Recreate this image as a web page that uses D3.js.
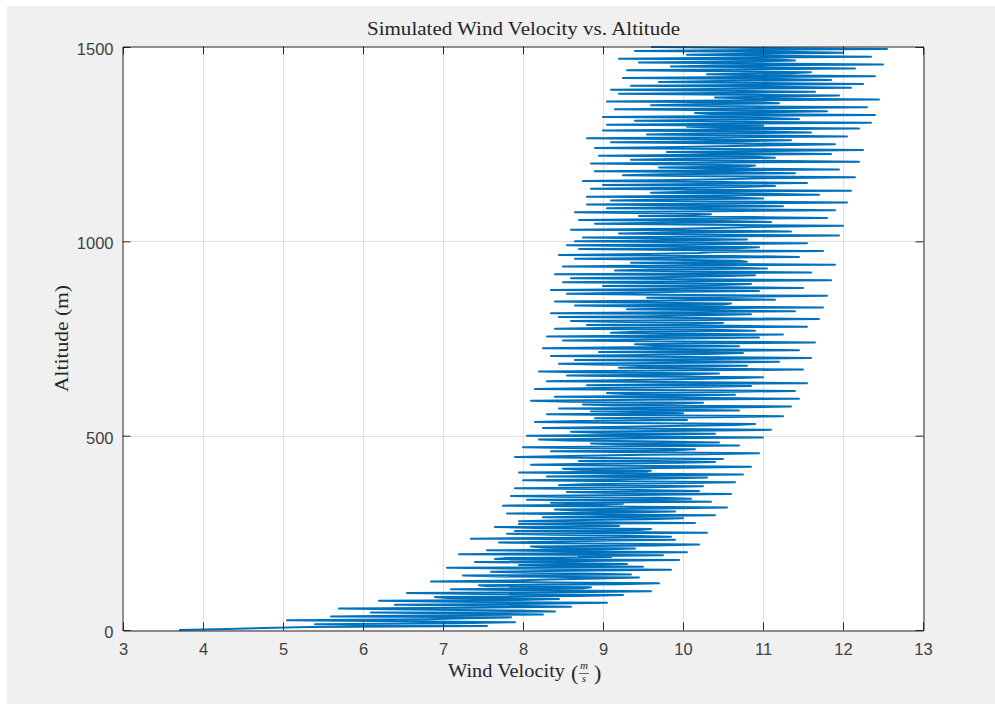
<!DOCTYPE html>
<html>
<head>
<meta charset="utf-8">
<script src="https://cdn.jsdelivr.net/npm/d3@7"></script>
<style>
  body { margin: 0; background: #ffffff; }
  svg { display: block; }
</style>
</head>
<body>
<svg width="995" height="704"></svg>
<script>
// Altitude samples (m), one reading every 2.5 m from 0 to 1500
const altStep = 2.5;

// Wind velocity (m/s), 40 readings per 100 m
const velocity = [
  3.70, 4.30, 4.75, 5.35, 7.55, 6.10, 5.40, 7.20, 7.90, 6.45, 5.05, 6.80, 7.30, 7.85, 5.60, 6.70, 8.25, 7.40, 6.10, 8.40,
  7.95, 6.60, 5.70, 7.35, 8.60, 7.70, 6.40, 8.20, 9.05, 7.15, 6.20, 7.95, 8.45, 7.05, 6.90, 8.70, 9.25, 7.50, 6.55, 8.85,
  9.60, 8.10, 7.10, 8.75, 8.85, 7.55, 7.45, 9.20, 9.70, 8.40, 6.85, 7.90, 8.30, 8.95, 9.45, 7.70, 7.25, 9.35, 8.95, 8.05,
  7.60, 8.60, 9.85, 8.25, 7.05, 9.50, 8.55, 7.95, 9.30, 8.45, 7.40, 8.80, 9.95, 7.65, 7.80, 9.10, 8.70, 9.75, 7.20, 8.50,
  10.05, 8.60, 7.55, 9.05, 9.40, 8.25, 8.10, 9.65, 10.20, 8.80, 7.70, 8.45, 9.15, 9.90, 7.35, 8.70, 9.85, 9.30, 8.35, 7.80,
  10.30, 8.95, 7.90, 9.45, 9.60, 8.15, 7.65, 9.20, 8.80, 7.95, 10.15, 9.00, 7.95, 8.50, 9.55, 10.00, 8.25, 9.35, 10.40, 8.65,
  7.80, 9.30, 9.90, 8.65, 8.40, 9.75, 10.55, 9.05, 7.75, 8.90, 9.25, 8.35, 10.35, 9.55, 8.05, 10.10, 9.70, 8.60, 7.85, 9.40,
  10.60, 9.15, 8.55, 10.20, 9.45, 8.75, 7.90, 9.60, 10.25, 8.45, 8.75, 9.85, 10.65, 9.20, 8.00, 8.95, 9.80, 10.30, 8.30, 9.50,
  10.75, 9.10, 7.95, 9.55, 9.60, 8.70, 8.50, 10.05, 10.85, 9.30, 8.10, 8.85, 9.95, 10.40, 8.70, 9.65, 10.50, 9.00, 7.90, 8.60,
  9.30, 10.25, 10.95, 9.45, 8.35, 9.90, 10.15, 8.80, 8.00, 9.75, 10.70, 9.20, 8.85, 10.45, 9.75, 8.55, 8.20, 9.35, 11.00, 9.80,
  8.05, 9.45, 10.40, 8.95, 8.60, 10.15, 11.10, 9.60, 8.25, 9.05, 9.85, 10.65, 10.90, 9.25, 8.15, 8.70, 10.05, 9.80, 8.90, 10.35,
  11.25, 9.40, 8.30, 10.00, 9.55, 8.85, 10.70, 9.70, 8.45, 10.50, 11.35, 9.15, 8.75, 9.90, 10.25, 8.60, 8.10, 9.55, 11.45, 10.10,
  8.40, 9.85, 10.65, 9.30, 9.05, 10.45, 11.40, 9.60, 8.15, 9.00, 10.20, 10.85, 8.80, 9.75, 11.55, 10.25, 8.30, 9.15, 9.95, 10.60,
  11.00, 9.45, 8.55, 10.05, 10.45, 8.90, 8.20, 9.80, 11.50, 10.30, 9.20, 9.55, 10.80, 9.05, 8.45, 10.15, 11.20, 9.70, 8.65, 10.40,
  11.60, 10.00, 8.35, 9.50, 10.30, 10.75, 8.95, 9.85, 11.45, 10.20, 8.25, 9.25, 10.70, 9.65, 9.40, 10.55, 11.65, 9.90, 8.50, 9.35,
  10.05, 10.95, 8.30, 9.70, 11.25, 10.10, 9.10, 9.45, 10.90, 10.35, 8.40, 9.15, 11.55, 10.60, 8.80, 9.95, 10.50, 9.30, 8.60, 10.25,
  11.70, 10.15, 8.45, 9.60, 10.25, 10.85, 8.35, 9.80, 11.40, 10.40, 9.30, 10.05, 11.75, 9.45, 8.65, 10.50, 10.60, 9.25, 8.40, 9.90,
  11.15, 10.30, 9.55, 10.70, 11.80, 9.65, 8.55, 9.35, 10.00, 10.95, 8.35, 9.75, 11.50, 10.20, 9.00, 10.45, 10.85, 9.50, 8.50, 10.10,
  11.85, 10.25, 8.60, 9.70, 10.45, 10.90, 8.40, 9.95, 11.60, 10.35, 9.15, 9.60, 11.05, 10.55, 8.50, 9.40, 11.90, 10.15, 9.35, 10.80,
  10.70, 9.85, 8.65, 10.00, 11.45, 10.60, 8.45, 9.55, 10.20, 10.40, 11.75, 9.90, 8.70, 10.65, 10.95, 9.75, 8.55, 10.30, 11.55, 10.05,
  8.65, 10.10, 10.80, 9.75, 8.75, 10.45, 11.95, 10.20, 9.20, 9.85, 11.35, 10.65, 8.60, 9.95, 10.55, 11.05, 12.00, 10.30, 8.90, 9.70,
  11.10, 10.50, 8.70, 10.00, 11.80, 10.85, 9.45, 10.15, 10.35, 9.60, 8.65, 10.40, 11.90, 10.70, 9.05, 9.90, 11.25, 10.25, 8.80, 10.55,
  12.05, 10.45, 9.10, 9.80, 11.00, 10.60, 8.80, 10.15, 11.70, 10.90, 9.60, 10.05, 12.10, 10.35, 8.85, 9.70, 10.75, 11.15, 9.00, 10.20,
  11.55, 10.50, 8.75, 9.90, 10.50, 11.05, 12.15, 10.30, 9.25, 9.75, 11.40, 10.65, 8.90, 10.10, 11.95, 10.40, 9.70, 10.80, 10.90, 10.00,
  8.85, 10.35, 12.20, 10.70, 9.35, 10.05, 11.15, 10.90, 8.95, 10.25, 11.85, 10.55, 9.80, 11.10, 12.25, 10.45, 8.90, 9.95, 10.65, 11.20,
  11.90, 10.30, 9.10, 10.75, 11.35, 10.10, 8.80, 10.60, 12.05, 10.85, 9.55, 10.20, 11.60, 10.95, 9.00, 10.40, 12.20, 10.65, 10.05, 11.00,
  9.05, 10.50, 12.35, 10.85, 9.40, 10.20, 11.45, 11.05, 9.00, 10.60, 12.40, 10.35, 10.15, 11.25, 11.80, 10.45, 9.15, 10.95, 12.30, 10.70,
  9.60, 10.15, 11.20, 11.00, 9.05, 10.55, 12.45, 10.80, 10.40, 11.30, 11.95, 10.25, 9.20, 10.90, 11.65, 10.50, 9.10, 10.75, 12.10, 11.15,
  9.35, 10.75, 12.25, 11.00, 9.70, 10.45, 11.85, 11.20, 9.25, 10.65, 12.40, 10.90, 10.30, 11.35, 11.60, 10.55, 9.30, 10.85, 12.15, 11.10,
  9.85, 10.40, 12.50, 10.95, 9.45, 10.70, 11.40, 11.25, 9.20, 10.60, 12.35, 11.05, 10.05, 10.80, 12.00, 11.30, 9.40, 10.85, 12.55, 10.95,
  9.60
];

const xTicks = [3, 4, 5, 6, 7, 8, 9, 10, 11, 12, 13];
const yTicks = [0, 500, 1000, 1500];

const titleText = 'Simulated Wind Velocity vs. Altitude';
const yLabelText = 'Altitude (m)';

const points = velocity.map((v, i) => ({ v: v, h: i * altStep }));

const svg = d3.select('svg');

// figure background
svg.append('rect')
  .attr('x', 7).attr('y', 6)
  .attr('width', 988).attr('height', 698)
  .attr('fill', '#f0f0f0');

const pLeft = 123, pRight = 923, pTop = 47, pBottom = 630;

const x = d3.scaleLinear().domain([3, 13]).range([pLeft, pRight]);
const y = d3.scaleLinear().domain([0, 1500]).range([pBottom, pTop]);

// axes area
svg.append('rect')
  .attr('x', pLeft).attr('y', pTop)
  .attr('width', pRight - pLeft).attr('height', pBottom - pTop)
  .attr('fill', '#ffffff');

// grid
const grid = svg.append('g').attr('stroke', '#dfdfdf').attr('stroke-width', 1);
grid.selectAll('.gx').data(xTicks.slice(1, -1)).join('line')
  .attr('x1', d => Math.round(x(d)) + 0.5).attr('x2', d => Math.round(x(d)) + 0.5)
  .attr('y1', pTop).attr('y2', pBottom);
grid.selectAll('.gy').data(yTicks.slice(1, -1)).join('line')
  .attr('y1', d => Math.round(y(d)) + 0.5).attr('y2', d => Math.round(y(d)) + 0.5)
  .attr('x1', pLeft).attr('x2', pRight);

// the data line
const line = d3.line()
  .x(d => x(d.v))
  .y(d => y(d.h));

svg.append('path')
  .datum(points)
  .attr('d', line)
  .attr('fill', 'none')
  .attr('stroke', '#0072bd')
  .attr('stroke-width', 2)
  .attr('stroke-linejoin', 'round');

// axes, ticks pointing inward, mirrored on top and right
const tickLen = -8;
const fontTick = '16.5px "Liberation Sans", Arial, sans-serif';

const axB = svg.append('g').attr('transform', `translate(0,${pBottom + 0.5})`)
  .call(d3.axisBottom(x).tickValues(xTicks).tickSize(tickLen).tickPadding(13).tickFormat(d3.format('d')));
const axT = svg.append('g').attr('transform', `translate(0,${pTop - 0.5})`)
  .call(d3.axisTop(x).tickValues(xTicks).tickSize(tickLen).tickFormat(''));
const axL = svg.append('g').attr('transform', `translate(${pLeft - 0.5},0)`)
  .call(d3.axisLeft(y).tickValues(yTicks).tickSize(tickLen).tickPadding(9).tickFormat(d3.format('d')));
const axR = svg.append('g').attr('transform', `translate(${pRight + 0.5},0)`)
  .call(d3.axisRight(y).tickValues(yTicks).tickSize(tickLen).tickFormat(''));

[axB, axT, axL, axR].forEach(a => {
  a.select('.domain').attr('stroke', '#262626').attr('stroke-width', 1);
  a.selectAll('.tick line').attr('stroke', '#262626');
  a.selectAll('.tick text')
    .style('font', fontTick)
    .attr('fill', '#404040');
});
axL.selectAll('.tick text').attr('dy', '0.45em');

// title
const serif = '"Liberation Serif", "DejaVu Serif", serif';
svg.append('text')
  .attr('x', 367).attr('y', 35)
  .attr('textLength', 313).attr('lengthAdjust', 'spacingAndGlyphs')
  .style('font-family', serif).style('font-size', '19px')
  .attr('fill', '#262626')
  .text(titleText);

// y label
svg.append('text')
  .attr('transform', 'translate(68,392) rotate(-90)')
  .attr('textLength', 107).attr('lengthAdjust', 'spacingAndGlyphs')
  .style('font-family', serif).style('font-size', '19px')
  .attr('fill', '#262626')
  .text(yLabelText);

// x label with the m/s fraction
const xl = svg.append('g').attr('fill', '#262626')
  .style('font-family', serif);
xl.append('text')
  .attr('x', 448).attr('y', 677)
  .attr('textLength', 117).attr('lengthAdjust', 'spacingAndGlyphs')
  .style('font-size', '19px')
  .text('Wind Velocity');
xl.append('text').attr('x', 571).attr('y', 680)
  .style('font-size', '22px').text('(');
const fx = 584;
xl.append('text').attr('x', fx).attr('y', 669).attr('text-anchor', 'middle')
  .style('font-size', '11px').style('font-style', 'italic').text('m');
xl.append('line').attr('x1', fx - 5).attr('x2', fx + 5).attr('y1', 673.5).attr('y2', 673.5)
  .attr('stroke', '#262626').attr('stroke-width', 0.7);
xl.append('text').attr('x', fx).attr('y', 682).attr('text-anchor', 'middle')
  .style('font-size', '11px').style('font-style', 'italic').text('s');
xl.append('text').attr('x', 594).attr('y', 680)
  .style('font-size', '22px').text(')');
</script>
</body>
</html>
